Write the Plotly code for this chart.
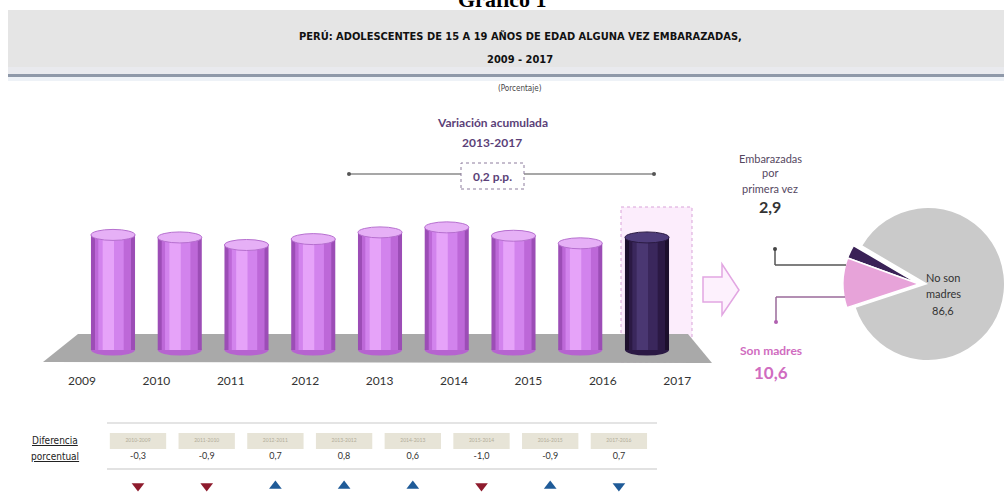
import plotly.graph_objects as go

# ---------------- data ----------------
years = ["2009", "2010", "2011", "2012", "2013", "2014", "2015", "2016", "2017"]
values = [13.7, 13.4, 12.5, 13.2, 14.0, 14.6, 13.6, 12.7, 13.4]
highlight_year = "2017"

periods = ["2010-2009", "2011-2010", "2012-2011", "2013-2012",
           "2014-2013", "2015-2014", "2016-2015", "2017-2016"]
diffs = [-0.3, -0.9, 0.7, 0.8, 0.6, -1.0, -0.9, 0.7]
arrow_dirs = ["down", "down", "up", "up", "up", "down", "up", "down"]
arrow_tones = ["red", "red", "blue", "blue", "blue", "red", "blue", "blue"]

pie_labels = ["Embarazadas por primera vez", "Son madres", "No son madres"]
pie_values = [2.9, 10.6, 86.6]

accum_period = "2013-2017"
accum_value = 0.2

title_line1 = "PERÚ: ADOLESCENTES DE 15 A 19 AÑOS DE EDAD ALGUNA VEZ EMBARAZADAS,"
title_line2 = "2009 - 2017"

# ---------------- helpers ----------------
W, H = 1004, 497


def X(px):
    return px / W


def Y(py):
    return 1 - py / H


def fmt(v):
    return f"{v:.1f}".replace(".", ",")


CAL = "Lato, 'Open Sans', sans-serif"
NARROW = "'Liberation Sans Narrow', 'DejaVu Sans Condensed', 'Liberation Sans', sans-serif"

# bar geometry (pixel calibration of axes)
bar_x0, bar_step = 113, 66.75
base_py, px_per_unit = 350, 8.4
lab_x0, lab_step = 82, 74.4
tab_x0, tab_step = 138, 68.7

fig = go.Figure()

is_hi = [y == highlight_year for y in years]
layers = [  # (width, offset shift, normal color, highlight color)
    (0.66, 0.0, "#9c4db6", "#1c0f2c"),
    (0.54, 0.0, "#bd68d8", "#2b1944"),
    (0.38, -0.03, "#d283ed", "#3a275c"),
    (0.17, -0.07, "#e6a3f9", "#4a3772"),
]
for w, sh, cn, ch in layers:
    fig.add_trace(go.Bar(
        x=years, y=values, width=w, offset=-w / 2 + sh,
        marker=dict(color=[ch if h else cn for h in is_hi], line=dict(width=0)),
        hoverinfo="skip", showlegend=False, xaxis="x", yaxis="y",
    ))

# year tick labels (spread axis)
fig.add_trace(go.Scatter(
    x=years, y=values, mode="markers", marker=dict(opacity=0),
    hoverinfo="skip", showlegend=False, xaxis="x2", yaxis="y",
))

# table row: differences and arrows
fig.add_trace(go.Scatter(
    x=periods, y=[457] * len(periods), mode="text",
    text=[fmt(d) for d in diffs],
    textfont=dict(family=CAL, size=9, color="#333333"),
    hoverinfo="skip", showlegend=False, xaxis="x3", yaxis="y2",
))
fig.add_trace(go.Scatter(
    x=periods, y=[441] * len(periods), mode="text",
    text=periods,
    textfont=dict(family=CAL, size=5, color="#b2ad98"),
    hoverinfo="skip", showlegend=False, xaxis="x3", yaxis="y2",
))
tone_col = {"red": "#8e1b2d", "blue": "#1f5b98"}
fig.add_trace(go.Scatter(
    x=periods, y=[486] * len(periods), mode="markers",
    marker=dict(symbol=["triangle-" + d for d in arrow_dirs], size=11,
                color=[tone_col[t] for t in arrow_tones], line=dict(width=0)),
    hoverinfo="skip", showlegend=False, xaxis="x3", yaxis="y2",
))

# pies: main (gray) and pulled small slices
pie_dom_y = [Y(360), Y(208)]
fig.add_trace(go.Pie(
    labels=pie_labels, values=pie_values, sort=False, direction="counterclockwise",
    rotation=-70, textinfo="none", hoverinfo="skip", showlegend=False,
    marker=dict(colors=["rgba(0,0,0,0)", "rgba(0,0,0,0)", "#cacaca"], line=dict(width=0)),
    domain=dict(x=[X(852), X(1004)], y=pie_dom_y),
))
fig.add_trace(go.Pie(
    labels=pie_labels, values=pie_values, sort=False, direction="counterclockwise",
    rotation=-70, textinfo="none", hoverinfo="skip", showlegend=False,
    marker=dict(colors=["#3a2257", "#e7a3d9", "rgba(0,0,0,0)"],
                line=dict(width=[1.5, 1.5, 0], color="white")),
    domain=dict(x=[X(843), X(995)], y=pie_dom_y),
))

shapes = []
# header band
shapes.append(dict(type="rect", xref="paper", yref="paper", x0=X(8), x1=1, y0=Y(67), y1=Y(10),
                   fillcolor="#e5e5e5", line=dict(width=0), layer="below"))
shapes.append(dict(type="rect", xref="paper", yref="paper", x0=X(8), x1=1, y0=Y(74), y1=Y(67),
                   fillcolor="#e9eaee", line=dict(width=0), layer="below"))
shapes.append(dict(type="rect", xref="paper", yref="paper", x0=X(8), x1=1, y0=Y(77), y1=Y(74),
                   fillcolor="#8f99a9", line=dict(width=0), layer="below"))
shapes.append(dict(type="rect", xref="paper", yref="paper", x0=X(8), x1=1, y0=Y(81), y1=Y(77),
                   fillcolor="#eef2f7", line=dict(width=0), layer="below"))

# highlight box for last year
shapes.append(dict(type="rect", xref="paper", yref="paper", x0=X(621), x1=X(692), y0=Y(362), y1=Y(207),
                   fillcolor="#fcedfc", line=dict(color="#d9a3d9", width=1, dash="dot"), layer="below"))


def ppath(pts):
    return "M " + " L ".join(f"{X(a):.5f},{Y(b):.5f}" for a, b in pts) + " Z"


# floor
shapes.append(dict(type="path", xref="paper", yref="paper",
                   path=ppath([(43, 362), (78, 334), (688, 334), (712, 363)]),
                   fillcolor="#a9a9a9", line=dict(width=0), layer="below"))

# bar bottom and top ellipses
eh = 5.5 / px_per_unit
for i, (yr, v) in enumerate(zip(years, values)):
    hi = yr == highlight_year
    shapes.append(dict(type="circle", xref="x", yref="y", x0=i - 0.33, x1=i + 0.33, y0=-eh, y1=eh,
                       fillcolor="#2b1944" if hi else "#b663d0", line=dict(width=0), layer="below"))
    shapes.append(dict(type="circle", xref="x", yref="y", x0=i - 0.33, x1=i + 0.33, y0=v - eh, y1=v + eh,
                       fillcolor="#4e3c7a" if hi else "#e6b0f6",
                       line=dict(width=1, color="#2a1a42" if hi else "#b66fcf"), layer="above"))

# variation bracket
shapes.append(dict(type="line", xref="paper", yref="paper", x0=X(349), x1=X(654), y0=Y(174), y1=Y(174),
                   line=dict(color="#8a8a8a", width=1.5)))
for cx in (349, 654):
    shapes.append(dict(type="circle", xref="paper", yref="paper", x0=X(cx - 2), x1=X(cx + 2),
                       y0=Y(176), y1=Y(172), fillcolor="#555555", line=dict(width=0)))
shapes.append(dict(type="rect", xref="paper", yref="paper", x0=X(461), x1=X(524), y0=Y(189), y1=Y(163),
                   fillcolor="white", line=dict(color="#8d7d9d", width=1, dash="dot")))

# big arrow
shapes.append(dict(type="path", xref="paper", yref="paper",
                   path=ppath([(703, 277), (722, 277), (722, 264), (739, 290), (722, 315), (722, 302), (703, 302)]),
                   fillcolor="#fdf1fd", line=dict(color="#e2a6e2", width=1.5)))

# connectors
shapes.append(dict(type="line", xref="paper", yref="paper", x0=X(775), x1=X(846), y0=Y(265), y1=Y(265),
                   line=dict(color="#555555", width=1.5)))
shapes.append(dict(type="line", xref="paper", yref="paper", x0=X(775), x1=X(775), y0=Y(265), y1=Y(249),
                   line=dict(color="#555555", width=1.5)))
shapes.append(dict(type="circle", xref="paper", yref="paper", x0=X(773), x1=X(777), y0=Y(251), y1=Y(247),
                   fillcolor="#444444", line=dict(width=0)))
shapes.append(dict(type="line", xref="paper", yref="paper", x0=X(776), x1=X(845), y0=Y(297), y1=Y(297),
                   line=dict(color="#9a6a9a", width=1.5)))
shapes.append(dict(type="line", xref="paper", yref="paper", x0=X(776), x1=X(776), y0=Y(297), y1=Y(322),
                   line=dict(color="#9a6a9a", width=1.5)))
shapes.append(dict(type="circle", xref="paper", yref="paper", x0=X(774), x1=X(778), y0=Y(324), y1=Y(320),
                   fillcolor="#b060b0", line=dict(width=0)))

# table lines and boxes
shapes.append(dict(type="line", xref="paper", yref="paper", x0=X(107), x1=X(657), y0=Y(423), y1=Y(423),
                   line=dict(color="#e4e4e4", width=2)))
shapes.append(dict(type="line", xref="paper", yref="paper", x0=X(107), x1=X(657), y0=Y(469), y1=Y(469),
                   line=dict(color="#d8d8d8", width=1.5)))
for i, p in enumerate(periods):
    shapes.append(dict(type="rect", xref="x3", yref="y2", x0=i - 0.41, x1=i + 0.41, y0=433, y1=449,
                       fillcolor="#e7e4d7", line=dict(width=0), layer="below"))

annotations = []


def note(text, px, py, size, color, family=CAL, **kw):
    annotations.append(dict(text=text, x=X(px), y=Y(py), xref="paper", yref="paper",
                            xanchor="center", yanchor="middle", showarrow=False,
                            font=dict(family=family, size=size, color=color), **kw))


# cut-off caption at very top
annotations.append(dict(text="<b>Gráfico 1</b>", x=X(502), y=Y(14), xref="paper", yref="paper",
                        xanchor="center", yanchor="bottom", showarrow=False,
                        font=dict(family="'Liberation Serif', serif", size=22, color="#000000")))
note("<b>" + title_line1 + "</b>", 520, 36, 11, "#111111", family=NARROW)
note("<b>" + title_line2 + "</b>", 520, 59, 11, "#111111", family=NARROW)
note("(Porcentaje)", 520, 88, 8, "#444444", family=NARROW)

# variation texts
note("<b>Variación acumulada</b>", 492, 123, 12, "#5b3f78")
note("<b>" + accum_period + "</b>", 492, 142, 12, "#5b3f78")
note("<b>" + fmt(accum_value) + " p.p.</b>", 492, 176, 12, "#5b3f78")

# bar value labels
for yr, v in zip(years, values):
    annotations.append(dict(text="<b>" + fmt(v) + "</b>", x=yr, y=v, xref="x", yref="y", yshift=17,
                            xanchor="center", yanchor="middle", showarrow=False,
                            font=dict(family=CAL, size=19, color="#1d1d2b")))

# pie side labels
for txt, py in (("Embarazadas", 158), ("por", 173), ("primera vez", 188)):
    note(txt, 770, py, 11, "#55485f")
note("<b>" + fmt(pie_values[0]) + "</b>", 770, 207, 16, "#333333")
note("<b>" + pie_labels[1] + "</b>", 771, 350, 12, "#d06cc0")
note("<b>" + fmt(pie_values[1]) + "</b>", 771, 372, 17, "#d06cc0")
for txt, py in (("No son", 277), ("madres", 293), (fmt(pie_values[2]), 310)):
    note(txt, 943, py, 11, "#333333")

# table left labels
note("<u>Diferencia</u>", 55, 440, 10, "#222222", family=NARROW)
note("<u>porcentual</u>", 55, 456, 10, "#222222", family=NARROW)

fig.update_layout(
    width=W, height=H,
    margin=dict(l=0, r=0, t=0, b=0),
    paper_bgcolor="white", plot_bgcolor="rgba(0,0,0,0)",
    barmode="overlay",
    showlegend=False,
    xaxis=dict(type="category", categoryorder="array", categoryarray=years,
               range=[-bar_x0 / bar_step, (W - bar_x0) / bar_step], domain=[0, 1],
               visible=False, fixedrange=True),
    yaxis=dict(range=[-(H - base_py) / px_per_unit, base_py / px_per_unit], domain=[0, 1],
               visible=False, fixedrange=True),
    xaxis2=dict(type="category", categoryorder="array", categoryarray=years, overlaying="x",
                range=[-lab_x0 / lab_step, (W - lab_x0) / lab_step], anchor="free", position=Y(372),
                side="bottom", showgrid=False, zeroline=False, showline=False, ticks="",
                tickfont=dict(family=CAL, size=12, color="#333333"), fixedrange=True),
    xaxis3=dict(type="category", categoryorder="array", categoryarray=periods, overlaying="x",
                range=[-tab_x0 / tab_step, (W - tab_x0) / tab_step], visible=False, fixedrange=True),
    yaxis2=dict(range=[H, 0], overlaying="y", visible=False, fixedrange=True),
    shapes=shapes,
    annotations=annotations,
)

fig.write_html("out.html")
